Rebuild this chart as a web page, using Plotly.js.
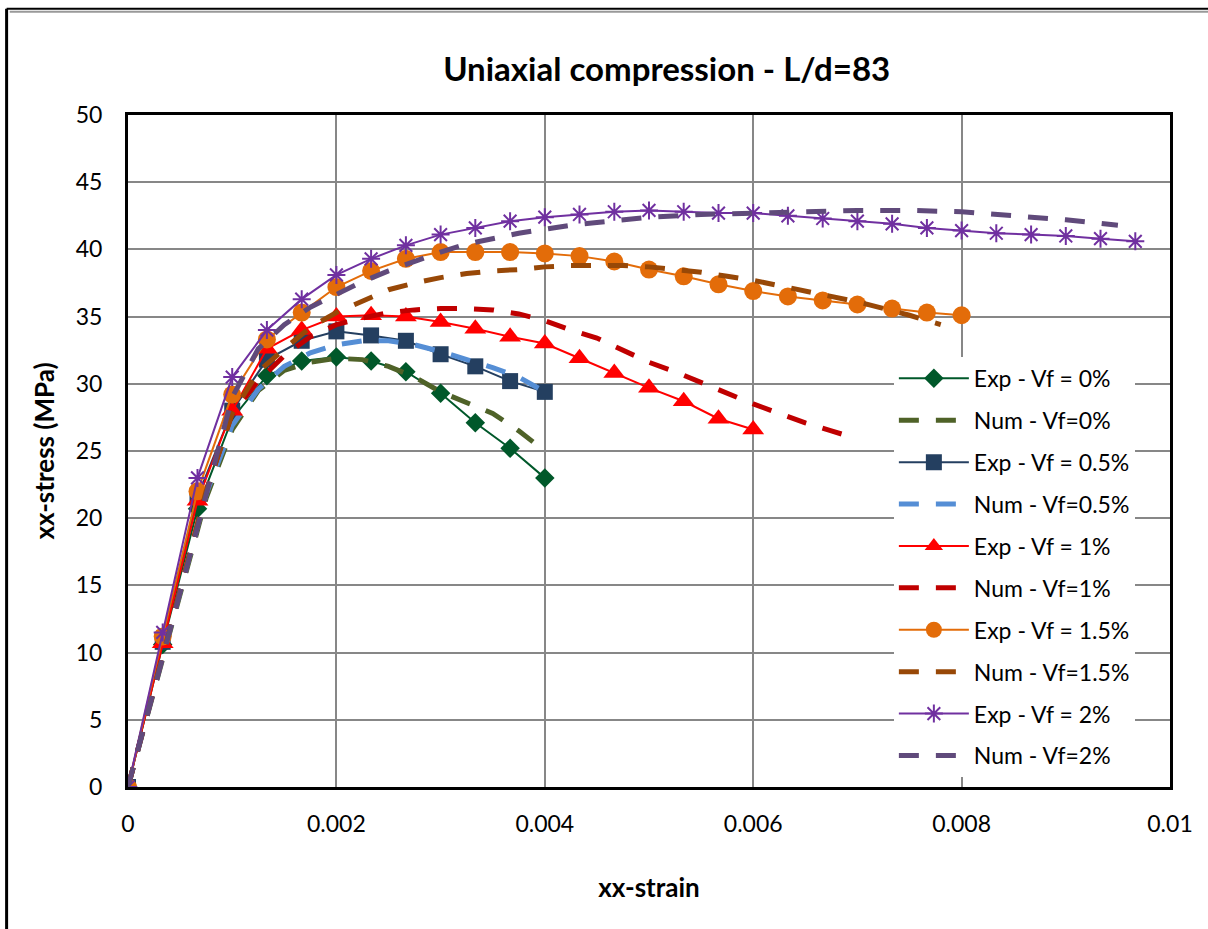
<!DOCTYPE html>
<html>
<head>
<meta charset="utf-8">
<script src="https://cdn.plot.ly/plotly-3.0.1.min.js"></script>
<style>
  html, body { margin: 0; padding: 0; background: #fff; }
  #chart { width: 1208px; height: 929px; }
</style>
</head>
<body>
<div id="chart"></div>
<script>
// ---------- data ----------
const strainExp = [0, 0.000333, 0.000667, 0.001, 0.001333, 0.001667, 0.002, 0.002333, 0.002667, 0.003,
  0.003333, 0.003667, 0.004, 0.004333, 0.004667, 0.005, 0.005333, 0.005667, 0.006, 0.006333,
  0.006667, 0.007, 0.007333, 0.007667, 0.008, 0.008333, 0.008667, 0.009, 0.009333, 0.009667];

const expStress0   = [0, 10.6, 20.7, 27.4, 30.6, 31.7, 32.0, 31.7, 30.9, 29.3, 27.1, 25.2, 23.0];
const expStress05  = [0, 10.8, 21.6, 28.0, 31.8, 33.2, 33.9, 33.6, 33.2, 32.2, 31.3, 30.2, 29.4];
const expStress1   = [0, 10.7, 21.3, 28.0, 32.6, 34.0, 35.0, 35.1, 35.0, 34.6, 34.1, 33.5, 33.0,
  31.9, 30.8, 29.7, 28.7, 27.4, 26.6];
const expStress15  = [0, 11.2, 22.0, 29.2, 33.3, 35.3, 37.2, 38.4, 39.3, 39.8, 39.8, 39.8, 39.7,
  39.5, 39.1, 38.5, 38.0, 37.4, 36.9, 36.5, 36.2, 35.9, 35.6, 35.3, 35.1];
const expStress2   = [0, 11.5, 23.0, 30.5, 34.0, 36.3, 38.1, 39.3, 40.3, 41.1, 41.6, 42.1, 42.4,
  42.6, 42.8, 42.9, 42.8, 42.7, 42.7, 42.5, 42.3, 42.1, 41.9, 41.6, 41.4, 41.2, 41.1, 41.0, 40.8, 40.6];

const numStrain0  = [0, 0.00025, 0.0005, 0.00075, 0.001, 0.00125, 0.0015, 0.00175, 0.002, 0.00225,
  0.0025, 0.00275, 0.003, 0.00325, 0.0035, 0.00375, 0.004];
const numStress0  = [0, 7.2, 14.4, 21.5, 26.6, 29.5, 31.0, 31.6, 31.9, 31.8, 31.3, 30.5, 29.4, 28.6, 27.8, 26.5, 25.0];

const numStrain05 = [0, 0.00025, 0.0005, 0.00075, 0.001, 0.00125, 0.0015, 0.00175, 0.002, 0.00225,
  0.0025, 0.00275, 0.003, 0.00325, 0.0035, 0.00375, 0.004];
const numStress05 = [0, 7.3, 14.6, 21.8, 26.9, 29.6, 31.3, 32.3, 32.9, 33.2, 33.2, 32.9, 32.4, 31.8, 31.2, 30.5, 29.4];

const numStrain1  = [0, 0.00025, 0.0005, 0.00075, 0.001, 0.00125, 0.0015, 0.00175, 0.002, 0.00225,
  0.0025, 0.00275, 0.003, 0.00325, 0.0035, 0.00375, 0.004, 0.00425, 0.0045, 0.00475,
  0.005, 0.00525, 0.0055, 0.00575, 0.006, 0.00625, 0.0065, 0.00675, 0.007];
const numStress1  = [0, 7.4, 14.8, 22.0, 27.8, 30.2, 32.1, 33.5, 34.4, 34.9, 35.3, 35.5, 35.6, 35.6,
  35.5, 35.2, 34.7, 34.0, 33.4, 32.5, 31.6, 30.9, 30.1, 29.3, 28.5, 27.8, 27.1, 26.5, 25.9];

const numStrain15 = [0, 0.00025, 0.0005, 0.00075, 0.001, 0.00125, 0.0015, 0.00175, 0.002, 0.00225,
  0.0025, 0.00275, 0.003, 0.00325, 0.0035, 0.00375, 0.004, 0.00425, 0.0045, 0.00475,
  0.005, 0.00525, 0.0055, 0.00575, 0.006, 0.00625, 0.0065, 0.00675, 0.007, 0.00725, 0.0075, 0.0078];
const numStress15 = [0, 7.4, 14.8, 22.0, 27.8, 30.9, 32.6, 34.2, 35.3, 36.2, 37.0, 37.5, 37.9, 38.2,
  38.4, 38.5, 38.7, 38.8, 38.8, 38.8, 38.7, 38.5, 38.3, 38.0, 37.7, 37.3, 36.9, 36.5, 36.1, 35.6, 35.1, 34.4];

const numStrain2  = [0, 0.00025, 0.0005, 0.00075, 0.001, 0.00125, 0.0015, 0.00175, 0.002, 0.00225,
  0.0025, 0.00275, 0.003, 0.00325, 0.0035, 0.00375, 0.004, 0.00425, 0.0045, 0.00475,
  0.005, 0.0055, 0.006, 0.0065, 0.007, 0.0075, 0.008, 0.0085, 0.009, 0.0095];
const numStress2  = [0, 7.3, 14.6, 21.9, 29.0, 32.6, 34.4, 35.7, 36.7, 37.6, 38.4, 39.1, 39.8, 40.4,
  40.8, 41.2, 41.5, 41.8, 42.0, 42.2, 42.4, 42.6, 42.7, 42.8, 42.9, 42.9, 42.8, 42.5, 42.2, 41.8];

const seriesNames = ['Exp - Vf = 0%', 'Num - Vf=0%', 'Exp - Vf = 0.5%', 'Num - Vf=0.5%',
  'Exp - Vf = 1%', 'Num - Vf=1%', 'Exp - Vf = 1.5%', 'Num - Vf=1.5%', 'Exp - Vf = 2%', 'Num - Vf=2%'];

const xTickVals = [0, 0.002, 0.004, 0.006, 0.008, 0.01];
const xTickText = ['0', '0.002', '0.004', '0.006', '0.008', '0.01'];
const yTickVals = [0, 5, 10, 15, 20, 25, 30, 35, 40, 45, 50];

// ---------- traces ----------
const DASH = '20px,17px';
function expTrace(name, y, color, lineColor, symbol, size, mline) {
  return {
    type: 'scatter', mode: 'lines+markers', name: name, legendgroup: name,
    x: strainExp.slice(0, y.length), y: y,
    line: { color: lineColor, width: 2 },
    marker: { symbol: symbol, size: size, color: color, line: mline || { width: 0 } }
  };
}
function numTrace(name, x, y, color) {
  return {
    type: 'scatter', mode: 'lines', name: name, legendgroup: name,
    x: x, y: y,
    line: { color: color, width: 5, dash: DASH }
  };
}

const traces = [
  expTrace(seriesNames[0], expStress0, '#00582A', '#00582A', 'diamond', 15),
  numTrace(seriesNames[1], numStrain0, numStress0, '#4F6228'),
  expTrace(seriesNames[2], expStress05, '#243F60', '#243F60', 'square', 16),
  numTrace(seriesNames[3], numStrain05, numStress05, '#558ED5'),
  expTrace(seriesNames[4], expStress1, '#FF0000', '#FF0000', 'triangle-up', 19),
  numTrace(seriesNames[5], numStrain1, numStress1, '#C00000'),
  expTrace(seriesNames[6], expStress15, '#E36C09', '#E36C09', 'circle', 18),
  numTrace(seriesNames[7], numStrain15, numStress15, '#984807'),
  expTrace(seriesNames[8], expStress2, '#7030A0', '#7030A0', 'asterisk-open', 15, { color: '#7030A0', width: 2 }),
  numTrace(seriesNames[9], numStrain2, numStress2, '#604A7B')
];

const FONT = 'Lato, "Open Sans", "Liberation Sans", sans-serif';

const layout = {
  width: 1208, height: 929,
  margin: { l: 128, r: 38, t: 115, b: 142 },
  paper_bgcolor: '#ffffff', plot_bgcolor: '#ffffff',
  font: { family: FONT, color: '#000000', size: 23 },
  title: {
    text: '<b>Uniaxial compression - L/d=83</b>',
    font: { family: FONT, size: 33, color: '#000' },
    x: 0.517, xref: 'paper', xanchor: 'center',
    y: 0.925, yref: 'container', yanchor: 'middle'
  },
  showlegend: true,
  legend: {
    x: 0.735, y: 0.64, xanchor: 'left', yanchor: 'top',
    bgcolor: '#ffffff', borderwidth: 0,
    font: { family: FONT, size: 23, color: '#000' },
    itemwidth: 70, tracegroupgap: 9,
    traceorder: 'grouped'
  },
  xaxis: {
    range: [0, 0.01], tickvals: xTickVals, ticktext: xTickText,
    showgrid: true, gridcolor: '#878787', gridwidth: 2,
    zeroline: false,
    showline: true, linecolor: '#000', linewidth: 3, mirror: true,
    ticks: '', ticklen: 0, ticklabelstandoff: 14,
    tickfont: { family: FONT, size: 23 },
    title: { text: '<b>xx-strain</b>', font: { family: FONT, size: 26 }, standoff: 44 },
    automargin: false
  },
  yaxis: {
    range: [0, 50], tickvals: yTickVals,
    showgrid: true, gridcolor: '#878787', gridwidth: 2,
    zeroline: false,
    showline: true, linecolor: '#000', linewidth: 3, mirror: true,
    ticks: '', ticklen: 0, ticklabelstandoff: 18,
    tickfont: { family: FONT, size: 23 },
    title: { text: '<b>xx-stress (MPa)</b>', font: { family: FONT, size: 26 }, standoff: 14 },
    automargin: false
  },
  shapes: [
    // outer chart frame (left and top edges)
    { type: 'line', xref: 'paper', yref: 'paper', x0: -0.1165, x1: -0.1165, y0: -0.25, y1: 1.158,
      line: { color: '#000', width: 3 } },
    { type: 'line', xref: 'paper', yref: 'paper', x0: -0.1165, x1: 1.05, y0: 1.158, y1: 1.158,
      line: { color: '#000', width: 2 } },
    { type: 'line', xref: 'paper', yref: 'paper', x0: -0.1135, x1: 1.05, y0: 1.1535, y1: 1.1535,
      line: { color: '#999', width: 2 } }
  ]
};

Plotly.newPlot('chart', traces, layout, { displayModeBar: false, staticPlot: true });
</script>
</body>
</html>
